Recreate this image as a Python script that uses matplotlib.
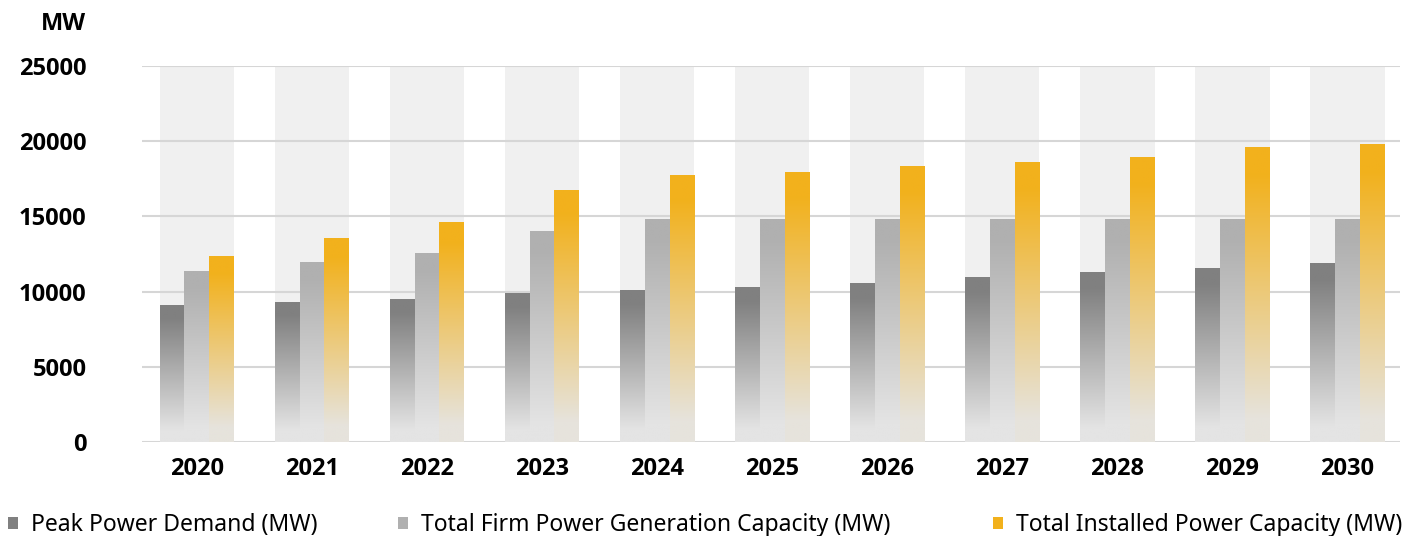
import numpy as np
import matplotlib
matplotlib.use("Agg")
import matplotlib.pyplot as plt
from matplotlib.patches import Patch
from matplotlib.colors import to_rgb

plt.rcParams['font.family'] = ['Noto Sans', 'DejaVu Sans']
BOLD = ['Open Sans', 'DejaVu Sans']

# ------------ Data ---------------
years = ['2020', '2021', '2022', '2023', '2024', '2025', '2026', '2027', '2028', '2029', '2030']
peak_demand = [9100, 9250, 9500, 9850, 10050, 10300, 10550, 10950, 11250, 11550, 11850]
firm_capacity = [11350, 11950, 12550, 14000, 14800, 14800, 14800, 14800, 14800, 14800, 14800]
installed_capacity = [12350, 13500, 14600, 16700, 17700, 17950, 18300, 18600, 18900, 19550, 19800]

series_names = ['Peak Power Demand (MW)',
                'Total Firm Power Generation Capacity (MW)',
                'Total Installed Power Capacity (MW)']
top_colors = ['#808080', '#b0b0b0', '#f2b11c']
bottom_colors = ['#e4e4e4', '#e4e4e4', '#e6e3dc']
y_ticks = [0, 5000, 10000, 15000, 20000, 25000]

# ------------ Plot Setup ---------------
fig = plt.figure(figsize=(14.07, 5.36), dpi=100)
ax = fig.add_axes([142 / 1407, 94 / 536, (1400 - 142) / 1407, 376 / 536])

x = np.arange(len(years))
bw = 0.217
group_w = 3 * bw
y_max = 25000

# background bands behind every group
ax.bar(x, [y_max] * len(x), width=group_w, color='#f0f0f0', zorder=0)

# gridlines
for t in y_ticks:
    ax.axhline(t, color='#d6d6d6', lw=1.5, zorder=1)


def gradient(top, bottom, n=256):
    t = np.linspace(0, 1, n)
    f = np.clip((t - 0.08) / (0.91 - 0.08), 0, 1)
    top = np.array(to_rgb(top))
    bottom = np.array(to_rgb(bottom))
    img = bottom[None, :] + (top - bottom)[None, :] * f[:, None]
    return img[:, None, :]


all_series = [peak_demand, firm_capacity, installed_capacity]
for i, vals in enumerate(all_series):
    bars = ax.bar(x + (i - 1) * bw, vals, width=bw, facecolor='none',
                  edgecolor='none', zorder=2)
    img = gradient(top_colors[i], bottom_colors[i])
    for r in bars:
        x0 = r.get_x()
        ax.imshow(img, extent=(x0, x0 + r.get_width(), 0, r.get_height()),
                  origin='lower', aspect='auto', zorder=2, interpolation='bilinear')

ax.set_xlim(-0.478, 10.46)
ax.set_ylim(0, y_max)
ax.set_xticks(x)
ax.set_xticklabels(years, fontsize=17, fontweight='bold', family=BOLD)
ax.set_yticks(y_ticks)
ax.set_yticklabels([str(t) for t in y_ticks], fontsize=17, fontweight='bold', family=BOLD)
ax.tick_params(axis='y', length=0, pad=40)
ax.tick_params(axis='x', length=0, pad=11)
for s in ax.spines.values():
    s.set_visible(False)

fig.text(86 / 1407, 1 - 24 / 536, 'MW', ha='right', va='center',
         fontsize=17, fontweight='bold', family=BOLD)

# legend entries placed individually
leg_x = [3, 393, 988]
for i in range(3):
    h = Patch(facecolor=top_colors[i], edgecolor='none')
    fig.legend([h], [series_names[i]], loc='center left',
               bbox_to_anchor=(leg_x[i] / 1407, 1 - 525 / 536), frameon=False,
               fontsize=16.5, handlelength=0.45, handleheight=0.45, handletextpad=0.57,
               borderaxespad=0, borderpad=0.2)

fig.savefig('out.png', dpi=100)
